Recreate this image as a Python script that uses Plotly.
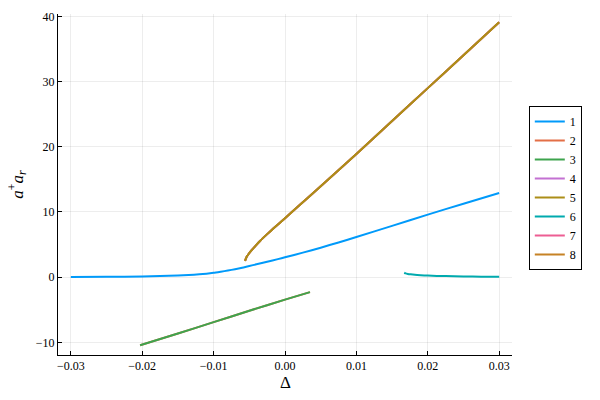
import plotly.graph_objects as go

# series 1 (blue)
x1 = [-0.03, -0.025, -0.02, -0.0175, -0.015, -0.0135, -0.012, -0.011, -0.01, -0.009,
      -0.008, -0.007, -0.006, -0.005, -0.004, -0.0025, -0.001, 0.0, 0.0025, 0.005,
      0.0075, 0.01, 0.015, 0.02, 0.025, 0.03]
y1 = [0.03, 0.05, 0.1, 0.16, 0.25, 0.33, 0.44, 0.54, 0.67, 0.84,
      1.02, 1.22, 1.45, 1.72, 1.97, 2.36, 2.77, 3.05, 3.76, 4.52,
      5.33, 6.16, 7.87, 9.6, 11.27, 12.9]

# series 2 / 3 (lower branch, identical)
x23 = [-0.0203, -0.015, -0.01, -0.005, 0.0, 0.0035]
y23 = [-10.45, -8.65, -6.9, -5.15, -3.45, -2.3]

# series 4 / 5 / 7 / 8 (upper branch, identical)
x58 = [-0.0056, -0.0054, -0.0051, -0.0047, -0.0041, -0.0035, -0.0025, -0.0016, 0.0,
       0.0019, 0.005, 0.01, 0.015, 0.02, 0.025, 0.03]
y58 = [2.5, 3.05, 3.55, 4.1, 4.85, 5.55, 6.6, 7.5, 9.05,
       10.9, 13.95, 18.9, 23.95, 29.0, 34.05, 39.1]

# series 6 (teal)
x6 = [0.0167, 0.0169, 0.0172, 0.0176, 0.0182, 0.019, 0.02, 0.0225, 0.025, 0.0275, 0.03]
y6 = [0.68, 0.58, 0.5, 0.43, 0.36, 0.3, 0.24, 0.16, 0.11, 0.08, 0.06]

names = ['1', '2', '3', '4', '5', '6', '7', '8']
colors = ['#009AFA', '#E36F47', '#3EA44E', '#C371D2', '#AC8E18', '#00AAAE', '#ED5E93', '#C68225']
xs = [x1, x23, x23, x58, x58, x6, x58, x58]
ys = [y1, y23, y23, y58, y58, y6, y58, y58]

# drawing order (5 ends up on top of 4/7/8), legend order stays 1..8
draw_order = [0, 1, 2, 3, 6, 7, 4, 5]

fig = go.Figure()
for i in draw_order:
    fig.add_trace(go.Scatter(x=xs[i], y=ys[i], mode='lines', name=names[i],
                             legendrank=i + 1,
                             line=dict(color=colors[i], width=2, shape='spline', smoothing=0.5)))

font = 'Liberation Serif'
# page body has an 8px margin, so the figure is 8px smaller than the window
fig.update_layout(
    width=592, height=392,
    margin=dict(l=50, r=88, t=6, b=45),
    paper_bgcolor='white', plot_bgcolor='white',
    font=dict(family=font, size=12, color='black'),
    showlegend=True,
    legend=dict(x=1.037, y=0.49, xanchor='left', yanchor='middle',
                bordercolor='black', borderwidth=1, bgcolor='white',
                font=dict(family=font, size=12), itemwidth=30,
                tracegroupgap=0),
    annotations=[
        dict(text='Δ', x=0.5, y=-0.082, xref='paper', yref='paper',
             xanchor='center', yanchor='middle', showarrow=False,
             font=dict(family=font, size=17)),
        dict(text='<i>a</i><sup>+</sup><i>a</i><sub><i>r</i></sub>',
             x=-0.09, y=0.5, xref='paper', yref='paper', textangle=-90,
             xanchor='center', yanchor='middle', showarrow=False,
             font=dict(family=font, size=17)),
    ],
)
fig.update_xaxes(
    range=[-0.0318, 0.0318], tickvals=[-0.03, -0.02, -0.01, 0.0, 0.01, 0.02, 0.03],
    tickformat='.2f', showgrid=True, gridcolor='rgba(0,0,0,0.07)', gridwidth=1,
    zeroline=False, showline=True, linecolor='black', linewidth=1,
    ticks='inside', ticklen=4, tickcolor='black', automargin=False,
)
fig.update_yaxes(
    range=[-11.94, 40.37], tickvals=[-10, 0, 10, 20, 30, 40],
    showgrid=True, gridcolor='rgba(0,0,0,0.07)', gridwidth=1,
    zeroline=False, showline=True, linecolor='black', linewidth=1,
    ticks='inside', ticklen=4, tickcolor='black', automargin=False,
)

fig.write_html('out.html')
